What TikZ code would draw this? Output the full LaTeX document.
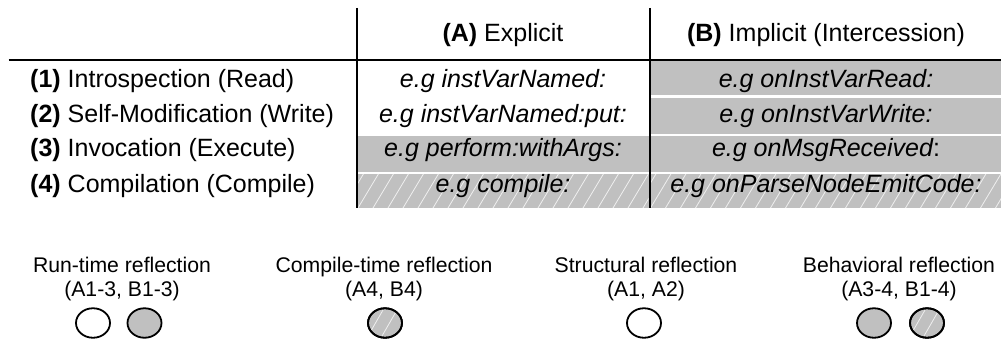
\documentclass[tikz,border=0pt]{standalone}
\usepackage{fontspec}
\setmainfont{Liberation Sans}
\usetikzlibrary{shapes.geometric,calc}
\definecolor{cellgray}{RGB}{192,192,192}

\tikzset{
  rule/.style={line width=2pt},
  cellfill/.style={fill=cellgray},
  hatchline/.style={white, line width=0.8pt, opacity=0.75},
  rowlabel/.style={anchor=base west, inner sep=0pt, font=\fontsize{25}{29}\selectfont},
  head/.style={anchor=base, inner sep=0pt, font=\fontsize{25}{29}\selectfont},
  celltext/.style={anchor=base, inner sep=0pt, font=\fontsize{25}{29}\selectfont\itshape},
  legend/.style={anchor=base, inner sep=0pt, font=\fontsize{21.2}{24}\selectfont},
  dot/.style={ellipse, draw, line width=1.8pt, minimum width=34pt, minimum height=29.5pt, inner sep=0pt},
  plaindot/.style={dot, fill=white},
  graydot/.style={dot, fill=cellgray},
}

% gray rectangle crossed by thin white diagonal lines
\newcommand\hatchbox[4]{%
  \fill[cellfill] (#1,#2) rectangle (#3,#4);
  \begin{scope}
    \clip (#1,#2) rectangle (#3,#4);
    \foreach \i in {-3,...,26}
      \draw[hatchline] ({#1+15*\i},#4) -- ++(21,-35);
  \end{scope}}

\begin{document}
\begin{tikzpicture}[x=1pt,y=-1pt]
  \useasboundingbox (0,0) rectangle (1001,342);

  % shaded cells
  \fill[cellfill] (650.5,61) rectangle (1001,95.5);
  \fill[cellfill] (650.5,98) rectangle (1001,134);
  \fill[cellfill] (358,136.5) rectangle (648.5,171.5);
  \fill[cellfill] (650.5,136.5) rectangle (1001,171.5);
  \hatchbox{358}{173.5}{648.5}{208}
  \hatchbox{650.5}{173.5}{1001}{208}

  % table rules
  \coordinate (hl) at (8.5,60);
  \coordinate (hr) at (1001,60);
  \coordinate (v1t) at (357,8);
  \coordinate (v1b) at (357,208);
  \coordinate (v2t) at (649.5,8);
  \coordinate (v2b) at (649.5,208);
  \draw[rule] (hl) -- (hr);
  \draw[rule] (v1t) -- (v1b);
  \draw[rule] (v2t) -- (v2b);

  % column headers
  \node[head] (hA) at (503,41.5) {\textbf{(A)} Explicit};
  \node[head] (hB) at (826,41.5) {\textbf{(B)} Implicit (Intercession)};

  % row labels
  \node[rowlabel] (r1) at (30,88)    {\textbf{(1)} Introspection (Read)};
  \node[rowlabel] (r2) at (30,122.5) {\textbf{(2)} Self-Modification (Write)};
  \node[rowlabel] (r3) at (30,157)   {\textbf{(3)} Invocation (Execute)};
  \node[rowlabel] (r4) at (30,192)   {\textbf{(4)} Compilation (Compile)};

  % cell contents
  \node[celltext] (a1) at (503,88)    {e.g instVarNamed:};
  \node[celltext] (a2) at (503,122.5) {e.g instVarNamed:put:};
  \node[celltext] (a3) at (503,157)   {e.g perform:withArgs:};
  \node[celltext] (a4) at (503,192)   {e.g compile:};
  \node[celltext] (b1) at (826,88)    {e.g onInstVarRead:};
  \node[celltext] (b2) at (826,122.5) {e.g onInstVarWrite:};
  \node[celltext] (b3) at (826,157)   {e.g onMsgReceived\upshape:};
  \node[celltext] (b4) at (826,192)   {e.g onParseNodeEmitCode:};

  % legend
  \node[legend] (rt)  at (122,272.5) {Run-time reflection};
  \node[legend] (rtc) at (122,296.5) {(A1-3, B1-3)};
  \node[plaindot] (rt1) at (93,323) {};
  \node[graydot]  (rt2) at (144.5,323) {};

  \node[legend] (ct)  at (384,272.5) {Compile-time reflection};
  \node[legend] (ctc) at (384,296.5) {(A4, B4)};
  \node[graydot] (ct1) at (385,323) {};

  \node[legend] (st)  at (646,272.5) {Structural reflection};
  \node[legend] (stc) at (646,296.5) {(A1, A2)};
  \node[plaindot] (st1) at (644,323) {};

  \node[legend] (bt)  at (899,272.5) {Behavioral reflection};
  \node[legend] (btc) at (899,296.5) {(A3-4, B1-4)};
  \node[graydot] (bt1) at (874,323) {};
  \node[graydot] (bt2) at (927,323) {};

  % white diagonal lines on the compile-time dots
  \foreach \d in {ct1,bt2}{
    \begin{scope}
      \clip (\d.center) ellipse (16 and 13.5);
      \draw[hatchline] ($(\d.center)+(-17,13)$) -- ++(15,-26);
      \draw[hatchline] ($(\d.center)+(-3,13)$) -- ++(15,-26);
    \end{scope}
    \node[dot] at (\d.center) {};
  }
\end{tikzpicture}
\end{document}
